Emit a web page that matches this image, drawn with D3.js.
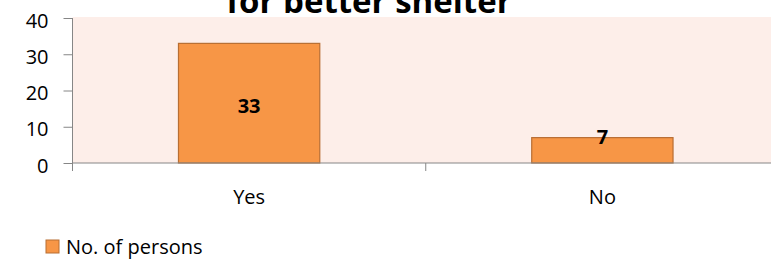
<!DOCTYPE html>
<html>
<head>
<meta charset="utf-8">
<script src="https://cdn.jsdelivr.net/npm/d3@7"></script>
<style>
  body { margin: 0; background: #fff; }
  svg { display: block; }
  svg text { font-family: "Open Sans", sans-serif; fill: #000; }
</style>
</head>
<body>
<div id="chart"></div>
<script>
// Data
const categories = ["Yes", "No"];
const persons = [33, 7];
const yTicks = [0, 10, 20, 30, 40];
const seriesName = "No. of persons";
const titleText = "for better shelter";

const W = 771, H = 261;
const plot = {left: 72.5, right: 779, top: 18, bottom: 163};
const axisColor = "#868686";

const svg = d3.select("#chart")
  .append("svg")
    .attr("width", W)
    .attr("height", H);

// Plot background
svg.append("rect")
  .attr("x", plot.left)
  .attr("y", plot.top - 1)
  .attr("width", W - plot.left)
  .attr("height", plot.bottom - plot.top + 1)
  .attr("fill", "#fdeee9");

// Scales
const x = d3.scaleBand()
  .domain(categories)
  .range([plot.left, plot.right])
  .padding(0);

const y = d3.scaleLinear()
  .domain([0, 40])
  .range([plot.bottom, plot.top]);

const barW = x.bandwidth() * 0.4;

// Bars
svg.selectAll("rect.bar")
  .data(persons)
  .join("rect")
    .attr("class", "bar")
    .attr("x", (d, i) => x(categories[i]) + (x.bandwidth() - barW) / 2)
    .attr("y", d => y(d))
    .attr("width", barW)
    .attr("height", d => y(0) - y(d))
    .attr("fill", "#f79646")
    .attr("stroke", "#b86e33")
    .attr("stroke-width", 1.2);

// Y axis
const yAxis = svg.append("g")
  .attr("transform", `translate(${plot.left},0)`)
  .call(d3.axisLeft(y).tickValues(yTicks).tickSize(9).tickPadding(15));
yAxis.select(".domain").attr("stroke", axisColor).attr("d", `M0,${plot.top}V${plot.bottom + 8}`);
yAxis.selectAll(".tick line").attr("stroke", axisColor);
yAxis.selectAll("text")
  .attr("dy", "0.45em")
  .style("font-size", "20px");

// X axis
const xAxis = svg.append("g")
  .attr("transform", `translate(0,${plot.bottom})`)
  .call(d3.axisBottom(x).tickSize(0));
xAxis.select(".domain").attr("stroke", axisColor).attr("d", `M${plot.left},0H${W}`);
xAxis.selectAll("text")
  .attr("dy", null)
  .attr("y", 40.5)
  .style("font-size", "20px");

// category boundary ticks
const bounds = categories.map(c => x(c)).concat([x(categories[categories.length - 1]) + x.bandwidth()]);
xAxis.selectAll("line.bound")
  .data(bounds)
  .join("line")
    .attr("class", "bound")
    .attr("x1", d => d).attr("x2", d => d)
    .attr("y1", 0).attr("y2", 8)
    .attr("stroke", axisColor);

// Data labels
svg.selectAll("text.lbl")
  .data(persons)
  .join("text")
    .attr("class", "lbl")
    .attr("x", (d, i) => x(categories[i]) + x.bandwidth() / 2)
    .attr("y", d => d > 10 ? (y(d) + y(0)) / 2 + 9.5 : y(d) + 6.5)
    .attr("text-anchor", "middle")
    .style("font-size", "20px")
    .style("font-weight", "bold")
    .text(d => d);

// Title (partly cut off at top, as in the original)
svg.append("text")
  .attr("x", 369)
  .attr("y", 12.5)
  .attr("text-anchor", "middle")
  .style("font-size", "33px")
  .style("font-weight", "bold")
  .text(titleText);

// Legend
const legend = svg.append("g").attr("transform", "translate(46,240)");
legend.append("rect")
  .attr("width", 13).attr("height", 13)
  .attr("fill", "#f79646")
  .attr("stroke", "#b86e33");
legend.append("text")
  .attr("x", 20)
  .attr("y", 13.5)
  .style("font-size", "20px")
  .text(seriesName);
</script>
</body>
</html>
